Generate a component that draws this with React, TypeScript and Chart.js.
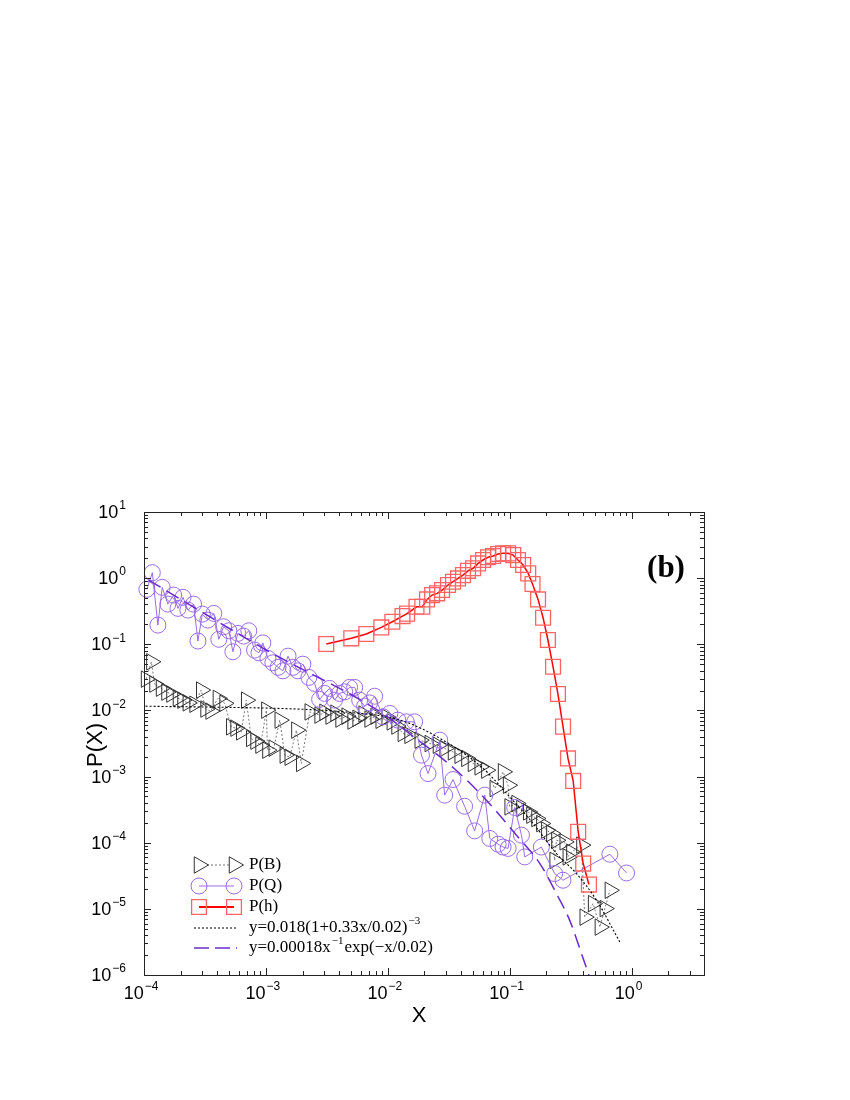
import React, { useEffect, useRef } from 'react';
import { Chart, registerables } from 'chart.js';

Chart.register(...registerables);

// ---------- data ----------
const bX = [
  1.04e-4, 1.15e-4, 1.22e-4, 1.38e-4, 1.53e-4, 1.68e-4, 1.9e-4, 2.07e-4, 2.29e-4, 2.6e-4,
  2.95e-4, 3.2e-4, 3.52e-4, 4.04e-4, 4.58e-4, 5.2e-4, 5.64e-4, 6.28e-4, 6.9e-4, 7.59e-4,
  8.23e-4, 9.04e-4, 1.01e-3, 1.03e-3, 1.16e-3, 1.3e-3, 1.43e-3, 1.57e-3, 1.78e-3, 1.95e-3,
  2.29e-3, 2.76e-3, 3.03e-3, 3.4e-3, 3.73e-3, 4.1e-3, 4.6e-3, 5.15e-3, 5.66e-3, 6.34e-3,
  7.1e-3, 7.96e-3, 8.75e-3, 9.8e-3, 1.08e-2, 1.18e-2, 1.33e-2, 1.51e-2, 1.83e-2, 2.21e-2,
  2.58e-2, 2.93e-2, 3.43e-2, 3.89e-2, 4.42e-2, 5.0e-2, 5.68e-2, 6.44e-2, 7.55e-2, 8.83e-2,
  9.71e-2, 0.1, 0.114, 0.125, 0.142, 0.151, 0.166, 0.182, 0.2, 0.22,
  0.234, 0.242, 0.283, 0.3, 0.321, 0.388, 0.413, 0.484, 0.55, 0.604, 0.664,
];
const bY = [
  0.0297, 0.0543, 0.025, 0.0217, 0.0189, 0.0177, 0.0153, 0.0143, 0.013, 0.0124,
  0.0203, 0.0105, 0.00976, 0.0152, 0.0128, 0.00565, 0.0054, 0.00474, 0.0143, 0.00377,
  0.00343, 0.00299, 0.0101, 0.00251, 0.00269, 0.00713, 0.00211, 0.00196, 0.00504, 0.00158,
  0.0095, 0.0085, 0.0094, 0.0082, 0.0091, 0.0074, 0.0082, 0.0069, 0.0076, 0.0088,
  0.0074, 0.0082, 0.0071, 0.0079, 0.0067, 0.0058, 0.00449, 0.0042, 0.00355, 0.00316,
  0.00298, 0.00266, 0.00236, 0.0021, 0.00188, 0.00158, 0.0014, 0.00125, 6.6e-4, 1.18e-3,
  7.4e-4, 3.48e-4, 3.92e-4, 3.29e-4, 2.92e-4, 2.61e-4, 2.32e-4, 1.95e-4, 1.55e-4, 1.38e-4,
  5.4e-5, 1.09e-4, 1.03e-4, 6.1e-5, 7.2e-5, 9.2e-5, 7.5e-6, 1.2e-5, 5.3e-6, 1.01e-5, 1.91e-5,
];

const qX = [
  1.055e-4, 1.17e-4, 1.3e-4, 1.41e-4, 1.57e-4, 1.75e-4, 1.9e-4, 2.09e-4, 2.29e-4, 2.55e-4,
  2.77e-4, 3.01e-4, 3.34e-4, 3.74e-4, 4.11e-4, 4.5e-4, 4.97e-4, 5.36e-4, 5.89e-4, 6.56e-4,
  7.24e-4, 8.07e-4, 8.77e-4, 9.44e-4, 1.04e-3, 1.14e-3, 1.26e-3, 1.38e-3, 1.52e-3, 1.67e-3,
  1.83e-3, 2.01e-3, 2.25e-3, 2.51e-3, 2.76e-3, 3.03e-3, 3.33e-3, 3.66e-3, 4.02e-3, 4.43e-3,
  4.86e-3, 5.35e-3, 5.88e-3, 6.46e-3, 7.1e-3, 7.8e-3, 9.14e-3, 1.04e-2, 1.21e-2, 1.42e-2,
  1.66e-2, 1.89e-2, 2.14e-2, 2.67e-2, 2.93e-2, 3.43e-2, 4.27e-2, 5.16e-2, 6.25e-2, 6.87e-2,
  8.04e-2, 8.83e-2, 9.71e-2, 0.11, 0.125, 0.133, 0.182, 0.234, 0.274, 0.664, 0.91,
];
const qY = [
  0.677, 1.21, 0.195, 0.726, 0.405, 0.555, 0.349, 0.513, 0.329, 0.405,
  0.112, 0.286, 0.232, 0.293, 0.119, 0.184, 0.16, 0.0771, 0.146, 0.133,
  0.16, 0.0817, 0.0743, 0.105, 0.0612, 0.0525, 0.0448, 0.0397, 0.0662, 0.0448,
  0.0397, 0.0501, 0.0316, 0.0256, 0.0147, 0.0181, 0.0215, 0.0143, 0.0181, 0.0191,
  0.0223, 0.0223, 0.0143, 0.0116, 0.013, 0.0164, 0.008, 0.009, 0.00713, 0.00673,
  0.00673, 0.00211, 0.00111, 0.00356, 5.24e-4, 9.03e-4, 3.56e-4, 1.51e-4, 5.24e-4, 1.16e-4,
  9.5e-5, 8.6e-5, 8.2e-5, 3.41e-4, 1.3e-4, 6.1e-5, 8.6e-5, 3.42e-5, 2.71e-5, 6.7e-5, 3.49e-5,
];

const hX = [
  0.00313, 0.00502, 0.00667, 0.00885, 0.0109, 0.0132, 0.0144, 0.0172, 0.0192, 0.021,
  0.0231, 0.0254, 0.0279, 0.0312, 0.0343, 0.0377, 0.0414, 0.0455, 0.0501, 0.0551,
  0.0605, 0.0665, 0.0731, 0.0804, 0.0883, 0.0971, 0.107, 0.117, 0.129, 0.142,
  0.154, 0.171, 0.188, 0.206, 0.227, 0.249, 0.274, 0.301, 0.332, 0.365, 0.401, 0.447,
];
const hY = [
  0.101, 0.123, 0.143, 0.18, 0.219, 0.267, 0.291, 0.369, 0.37, 0.477,
  0.555, 0.589, 0.661, 0.787, 0.883, 0.99, 1.11, 1.29, 1.41, 1.67,
  1.88, 2.07, 2.16, 2.32, 2.37, 2.37, 2.23, 1.88, 1.58, 1.18,
  0.815, 0.477, 0.252, 0.116, 0.0457, 0.0177, 0.00569, 0.00188, 0.00086, 1.46e-4, 4.84e-5, 2.33e-5,
];

// fitted curves
const fitBX = [1.03e-4, 2.15e-3, 5.0e-3, 1.25e-2, 2.84e-2, 6.05e-2, 0.1, 0.156, 0.242, 0.353, 0.516, 0.8];
const fitBY = [0.0116, 0.01035, 0.0093, 0.0072, 3.56e-3, 1.33e-3, 4.93e-4, 1.95e-4, 6.87e-5, 3.42e-5, 1.35e-5, 3.16e-6];

const fitQX = [1.09e-4, 1.01e-3, 9.1e-3, 1.5e-2, 3.54e-2, 6.25e-2, 0.117, 0.177, 0.242, 0.311, 0.401, 0.447];
const fitQY = [0.936, 0.0817, 9.0e-3, 4.5e-3, 1.3e-3, 4.67e-4, 1.22e-4, 4.84e-5, 1.7e-5, 6.7e-6, 1.77e-6, 1.0e-6];

const xTickExps = [-4, -3, -2, -1, 0];
const yTickExps = [-6, -5, -4, -3, -2, -1, 0, 1];

const legendLabels = ['P(B)', 'P(Q)', 'P(h)'];
const fitLabelB = ['y=0.018(1+0.33x/0.02)', '\u22123', ''];
const fitLabelQ = ['y=0.00018x', '\u22121', 'exp(\u2212x/0.02)'];

// ---------- styles ----------
const SANS = '"Liberation Sans", Arial, Helvetica, sans-serif';
const SERIF = '"Liberation Serif", "Times New Roman", serif';
const C_B = '#333333';
const C_B_LINE = '#777777';
const C_Q = '#9b6be6';
const C_H_PT = '#ff6464';
const C_H_LINE = '#ff0000';
const C_FITQ = '#6a2bcc';
const TRI_R = 9.5;

const pts = (xs: number[], ys: number[]) => xs.map((x, i) => ({ x, y: ys[i] }));

function drawMarker(ctx: CanvasRenderingContext2D, kind: string, x: number, y: number) {
  ctx.beginPath();
  if (kind === 'tri') {
    const r = TRI_R;
    ctx.moveTo(x + r, y);
    ctx.lineTo(x - r / 2, y - r * 0.866);
    ctx.lineTo(x - r / 2, y + r * 0.866);
    ctx.closePath();
  } else if (kind === 'circ') {
    ctx.arc(x, y, 8, 0, Math.PI * 2);
  } else {
    ctx.rect(x - 7.4, y - 7.4, 14.8, 14.8);
  }
  ctx.stroke();
}

function expText(e: number) {
  return e < 0 ? '\u2212' + Math.abs(e) : String(e);
}

const decorPlugin = {
  id: 'decor',
  afterDraw(chart: any) {
    const { ctx, chartArea: a, scales } = chart;
    const xs = scales.x;
    const ys = scales.y;
    ctx.save();
    // frame
    ctx.strokeStyle = '#222';
    ctx.lineWidth = 1;
    ctx.strokeRect(Math.round(a.left) + 0.5, Math.round(a.top) + 0.5, Math.round(a.right - a.left), Math.round(a.bottom - a.top));

    // x ticks
    ctx.beginPath();
    for (const e of xTickExps) {
      for (let m = 1; m <= 9; m++) {
        const v = m * Math.pow(10, e);
        if (v > xs.max) break;
        const px = Math.round(xs.getPixelForValue(v)) + 0.5;
        const len = m === 1 ? 7 : 4;
        ctx.moveTo(px, a.bottom);
        ctx.lineTo(px, a.bottom - len);
        ctx.moveTo(px, a.top);
        ctx.lineTo(px, a.top + len);
      }
    }
    // y ticks
    for (const e of yTickExps) {
      for (let m = 1; m <= 9; m++) {
        const v = m * Math.pow(10, e);
        if (v > ys.max * 1.0001) break;
        const py = Math.round(ys.getPixelForValue(v)) + 0.5;
        const len = m === 1 ? 7 : 4;
        ctx.moveTo(a.left, py);
        ctx.lineTo(a.left + len, py);
        ctx.moveTo(a.right, py);
        ctx.lineTo(a.right - len, py);
      }
    }
    ctx.stroke();

    // tick labels
    ctx.fillStyle = '#000';
    ctx.textBaseline = 'middle';
    ctx.textAlign = 'left';
    const baseFont = '18px ' + SANS;
    const supFont = '12px ' + SANS;
    for (const e of xTickExps) {
      const px = xs.getPixelForValue(Math.pow(10, e));
      ctx.font = baseFont;
      const w1 = ctx.measureText('10').width;
      ctx.font = supFont;
      const w2 = ctx.measureText(expText(e)).width;
      const start = px - 3 - (w1 + w2 + 1) / 2;
      ctx.font = baseFont;
      ctx.fillText('10', start, a.bottom + 19);
      ctx.font = supFont;
      ctx.fillText(expText(e), start + w1 + 1, a.bottom + 12);
    }
    for (const e of yTickExps) {
      const py = ys.getPixelForValue(Math.pow(10, e));
      ctx.font = supFont;
      const w2 = ctx.measureText(expText(e)).width;
      ctx.font = baseFont;
      const w1 = ctx.measureText('10').width;
      const right = a.left - 18;
      ctx.fillText('10', right - w2 - 1 - w1, py + 1);
      ctx.font = supFont;
      ctx.fillText(expText(e), right - w2, py - 6);
    }

    // axis titles
    ctx.font = '22px ' + SANS;
    ctx.textAlign = 'center';
    ctx.fillText('X', (a.left + a.right) / 2 - 5, a.bottom + 41);
    ctx.save();
    ctx.translate(96, 745);
    ctx.rotate(-Math.PI / 2);
    ctx.fillText('P(X)', 0, 0);
    ctx.restore();

    // panel tag
    ctx.font = 'bold 31px ' + SERIF;
    ctx.textAlign = 'center';
    ctx.fillText('(b)', 666, 569);

    // legend
    const rows = [865, 886, 907, 928, 948];
    const x1 = 199;
    const x2 = 234;
    const tx = 249;
    ctx.textAlign = 'left';
    // P(B)
    ctx.strokeStyle = C_B_LINE;
    ctx.lineWidth = 1;
    ctx.setLineDash([2, 2]);
    ctx.beginPath();
    ctx.moveTo(x1 + 8, rows[0]);
    ctx.lineTo(x2 - 4, rows[0]);
    ctx.stroke();
    ctx.setLineDash([]);
    ctx.strokeStyle = C_B;
    drawMarker(ctx, 'tri', x1, rows[0]);
    drawMarker(ctx, 'tri', x2, rows[0]);
    // P(Q)
    ctx.strokeStyle = C_Q;
    ctx.beginPath();
    ctx.moveTo(x1, rows[1]);
    ctx.lineTo(x2, rows[1]);
    ctx.stroke();
    drawMarker(ctx, 'circ', x1, rows[1]);
    drawMarker(ctx, 'circ', x2, rows[1]);
    // P(h)
    ctx.strokeStyle = C_H_LINE;
    ctx.lineWidth = 2;
    ctx.beginPath();
    ctx.moveTo(x1, rows[2]);
    ctx.lineTo(x2, rows[2]);
    ctx.stroke();
    ctx.lineWidth = 1.3;
    ctx.strokeStyle = C_H_PT;
    drawMarker(ctx, 'rect', x1, rows[2]);
    drawMarker(ctx, 'rect', x2, rows[2]);
    // fit B
    ctx.strokeStyle = '#000';
    ctx.lineWidth = 1;
    ctx.setLineDash([2, 2]);
    ctx.beginPath();
    ctx.moveTo(x1 - 5, rows[3]);
    ctx.lineTo(x2 + 3, rows[3]);
    ctx.stroke();
    // fit Q
    ctx.strokeStyle = C_FITQ;
    ctx.lineWidth = 1.5;
    ctx.setLineDash([15, 6]);
    ctx.beginPath();
    ctx.moveTo(x1 - 5, rows[4]);
    ctx.lineTo(x2 + 3, rows[4]);
    ctx.stroke();
    ctx.setLineDash([]);

    ctx.fillStyle = '#000';
    const lf = '17px ' + SERIF;
    const sf = '11px ' + SERIF;
    ctx.font = lf;
    legendLabels.forEach((t, i) => ctx.fillText(t, tx, rows[i]));
    const drawFit = (parts: string[], y: number) => {
      let x = tx;
      ctx.font = lf;
      ctx.fillText(parts[0], x, y);
      x += ctx.measureText(parts[0]).width + 1;
      ctx.font = sf;
      ctx.fillText(parts[1], x, y - 7);
      x += ctx.measureText(parts[1]).width + 1;
      ctx.font = lf;
      if (parts[2]) ctx.fillText(parts[2], x, y);
    };
    drawFit(fitLabelB, rows[3]);
    drawFit(fitLabelQ, rows[4]);
    ctx.restore();
  },
};

export default function App() {
  const ref = useRef<HTMLCanvasElement | null>(null);
  useEffect(() => {
    if (!ref.current) return;
    const chart = new Chart(ref.current, {
      type: 'line',
      data: {
        datasets: [
          {
            label: 'fitQ',
            data: pts(fitQX, fitQY),
            borderColor: C_FITQ,
            borderWidth: 1.5,
            borderDash: [14, 7],
            pointRadius: 0,
            cubicInterpolationMode: 'monotone',
            clip: false,
          },
          {
            label: 'fitB',
            data: pts(fitBX, fitBY),
            borderColor: '#000',
            borderWidth: 1.1,
            borderDash: [2, 2],
            pointRadius: 0,
            cubicInterpolationMode: 'monotone',
            clip: false,
          },
          {
            label: 'P(h)',
            data: pts(hX, hY),
            borderColor: C_H_LINE,
            borderWidth: 1.5,
            tension: 0,
            pointStyle: 'rect',
            pointRadius: 10.5,
            pointBorderColor: C_H_PT,
            pointBackgroundColor: 'rgba(0,0,0,0)',
            pointBorderWidth: 1.3,
            clip: false,
          },
          {
            label: 'P(Q)',
            data: pts(qX, qY),
            borderColor: C_Q,
            borderWidth: 1,
            tension: 0,
            pointStyle: 'circle',
            pointRadius: 8,
            pointBorderColor: C_Q,
            pointBackgroundColor: 'rgba(0,0,0,0)',
            pointBorderWidth: 1,
            clip: false,
          },
          {
            label: 'P(B)',
            data: pts(bX, bY),
            borderColor: C_B_LINE,
            borderWidth: 1,
            borderDash: [2, 2],
            tension: 0,
            pointStyle: 'triangle',
            pointRotation: 90,
            pointRadius: TRI_R,
            pointBorderColor: C_B,
            pointBackgroundColor: 'rgba(0,0,0,0)',
            pointBorderWidth: 1,
            clip: false,
          },
        ],
      },
      options: {
        animation: false,
        responsive: false,
        devicePixelRatio: 1,
        layout: { padding: { left: 144, right: 146, top: 512, bottom: 125 } },
        plugins: { legend: { display: false }, tooltip: { enabled: false } },
        scales: {
          x: { type: 'logarithmic', min: 1e-4, max: 3.93, display: false },
          y: { type: 'logarithmic', min: 1e-6, max: 10, display: false },
        },
      } as any,
      plugins: [decorPlugin],
    });
    return () => chart.destroy();
  }, []);
  return (
    <div style={{ position: 'absolute', left: 0, top: 0, width: 850, height: 1100, background: '#fff' }}>
      <canvas ref={ref} width={850} height={1100} style={{ display: 'block' }} />
    </div>
  );
}
